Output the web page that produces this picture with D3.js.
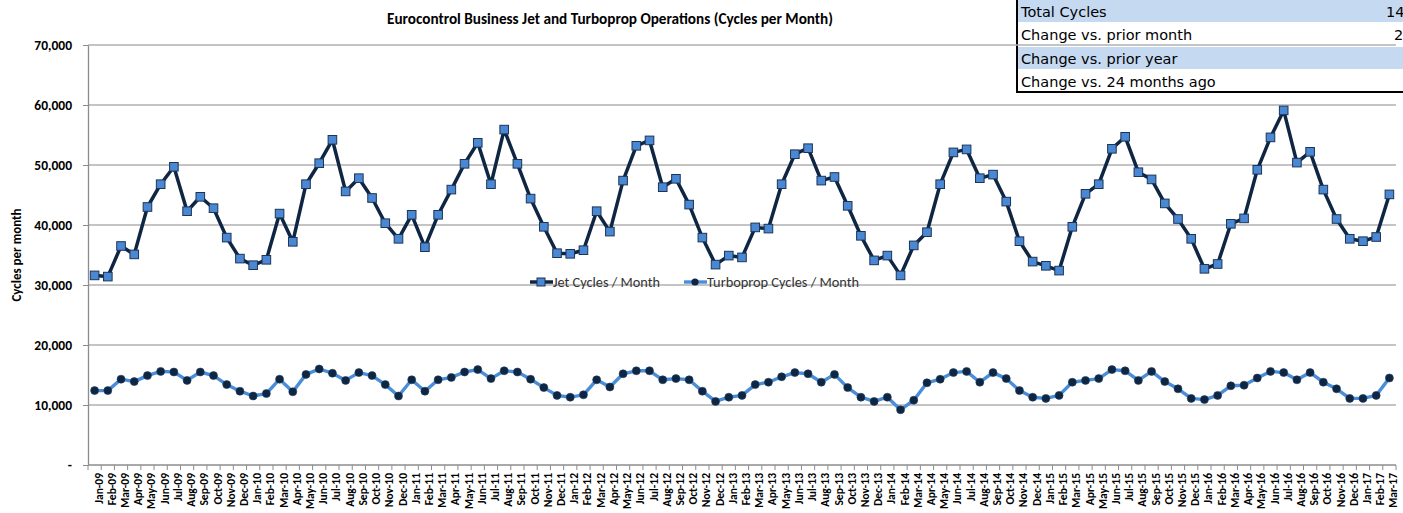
<!DOCTYPE html>
<html>
<head>
<meta charset="utf-8">
<script src="https://cdn.jsdelivr.net/npm/d3@7"></script>
<style>
  body { margin: 0; background: #fff; }
  svg { display: block; }
</style>
</head>
<body>
<svg id="chart" width="1403" height="513"></svg>
<script>
// categories (months)
let months = [
  "Jan-09","Feb-09","Mar-09","Apr-09","May-09","Jun-09","Jul-09","Aug-09","Sep-09","Oct-09","Nov-09","Dec-09",
  "Jan-10","Feb-10","Mar-10","Apr-10","May-10","Jun-10","Jul-10","Aug-10","Sep-10","Oct-10","Nov-10","Dec-10",
  "Jan-11","Feb-11","Mar-11","Apr-11","May-11","Jun-11","Jul-11","Aug-11","Sep-11","Oct-11","Nov-11","Dec-11",
  "Jan-12","Feb-12","Mar-12","Apr-12","May-12","Jun-12","Jul-12","Aug-12","Sep-12","Oct-12","Nov-12","Dec-12",
  "Jan-13","Feb-13","Mar-13","Apr-13","May-13","Jun-13","Jul-13","Aug-13","Sep-13","Oct-13","Nov-13","Dec-13",
  "Jan-14","Feb-14","Mar-14","Apr-14","May-14","Jun-14","Jul-14","Aug-14","Sep-14","Oct-14","Nov-14","Dec-14",
  "Jan-15","Feb-15","Mar-15","Apr-15","May-15","Jun-15","Jul-15","Aug-15","Sep-15","Oct-15","Nov-15","Dec-15",
  "Jan-16","Feb-16","Mar-16","Apr-16","May-16","Jun-16","Jul-16","Aug-16","Sep-16","Oct-16","Nov-16","Dec-16",
  "Jan-17","Feb-17","Mar-17"
];

let jetCycles = [
  31600, 31400, 36500, 35100, 43000, 46800, 49700, 42300, 44700, 42800, 37900, 34400,
  33300, 34200, 41900, 37200, 46800, 50300, 54200, 45600, 47800, 44500, 40300, 37700,
  41700, 36300, 41700, 45900, 50200, 53700, 46800, 55900, 50200, 44400, 39700, 35300,
  35200, 35800, 42300, 38900, 47400, 53200, 54100, 46300, 47700, 43400, 37900, 33400,
  34900, 34600, 39600, 39400, 46800, 51800, 52800, 47400, 48000, 43200, 38200, 34100,
  34900, 31600, 36600, 38800, 46800, 52100, 52600, 47800, 48400, 43900, 37300, 33900,
  33200, 32400, 39700, 45200, 46800, 52700, 54700, 48800, 47600, 43600, 41000, 37700,
  32700, 33500, 40200, 41100, 49200, 54600, 59100, 50400, 52200, 45900, 41000, 37700,
  37300, 38000, 45100
];

let turbopropCycles = [
  12400, 12400, 14300, 13900, 14900, 15600, 15500, 14100, 15500, 14900, 13400, 12300,
  11500, 11900, 14300, 12200, 15100, 16000, 15300, 14100, 15400, 14900, 13400, 11500,
  14200, 12300, 14200, 14600, 15500, 15900, 14400, 15700, 15500, 14300, 12900, 11600,
  11300, 11700, 14200, 13000, 15200, 15700, 15700, 14200, 14400, 14200, 12300, 10600,
  11300, 11600, 13400, 13800, 14700, 15400, 15200, 13800, 15100, 12900, 11300, 10600,
  11300, 9200, 10800, 13700, 14300, 15400, 15600, 13800, 15400, 14400, 12400, 11300,
  11100, 11600, 13800, 14100, 14400, 15900, 15700, 14100, 15600, 13900, 12700, 11100,
  10900, 11600, 13200, 13300, 14500, 15600, 15400, 14200, 15400, 13800, 12700, 11100,
  11100, 11600, 14500
];

let yTicks = [0, 10000, 20000, 30000, 40000, 50000, 60000, 70000];

let tableRows = ["Total Cycles", "Change vs. prior month", "Change vs. prior year", "Change vs. 24 months ago"];
let tableValues = ["14", "2", "", ""];

let svg = d3.select("#chart");

let margin = { left: 88, right: 1396, top: 45, bottom: 465 };

// summary table (top right)
let table = svg.append("g").attr("class", "summary");
let rowTops = [0, 23, 47, 70];
let rowHeights = [22, 23, 22, 21];

table.selectAll("rect.row").
data(tableRows).
enter().
append("rect").
attr("class", "row").
attr("x", 1017).
attr("y", (d, i) => rowTops[i]).
attr("width", 400).
attr("height", (d, i) => rowHeights[i]).
attr("fill", (d, i) => i % 2 === 0 ? "#c5d9f1" : "#ffffff");

table.selectAll("text.label").
data(tableRows).
enter().
append("text").
attr("class", "label").
attr("x", 1021).
attr("y", (d, i) => rowTops[i] + 17).
attr("font-family", "Verdana, 'DejaVu Sans', sans-serif").
attr("font-size", 14.5).
attr("fill", "#000").
text(d => d);

table.selectAll("text.value").
data(tableValues).
enter().
append("text").
attr("class", "value").
attr("x", (d, i) => i === 0 ? 1386 : 1394).
attr("y", (d, i) => rowTops[i] + 17).
attr("font-family", "Verdana, 'DejaVu Sans', sans-serif").
attr("font-size", 14.5).
attr("fill", "#000").
text(d => d);

table.append("line").
attr("x1", 1017).attr("x2", 1017).
attr("y1", 0).attr("y2", 93).
attr("stroke", "#000").attr("stroke-width", 2);
table.append("line").
attr("x1", 1016).attr("x2", 1403).
attr("y1", 92).attr("y2", 92).
attr("stroke", "#000").attr("stroke-width", 2);

// scales
let x = d3.scaleBand().
domain(months).
range([margin.left, margin.right]);

let y = d3.scaleLinear().
domain([0, 70000]).
range([margin.bottom, margin.top]);

// gridlines
svg.append("g").
attr("class", "grid").
selectAll("line").
data(yTicks.filter(d => d > 0)).
enter().
append("line").
attr("x1", margin.left).
attr("x2", margin.right).
attr("y1", d => y(d)).
attr("y2", d => y(d)).
attr("stroke", "#b0b0b0").
attr("stroke-width", 1.4);

// y axis
let yAxis = d3.axisLeft(y).
tickValues(yTicks).
tickSize(5).
tickSizeOuter(0).
tickPadding(11).
tickFormat(d => d === 0 ? "-" : d3.format(",")(d));

let gy = svg.append("g").
attr("transform", `translate(${margin.left},0)`).
call(yAxis);
gy.select(".domain").attr("stroke", "#8c8c8c").attr("stroke-width", 1.3);
gy.selectAll(".tick line").attr("stroke", "#8c8c8c");
gy.selectAll(".tick text").
attr("font-family", "Carlito, Lato, sans-serif").
attr("font-weight", "bold").
attr("font-size", 13.5).
attr("fill", "#000");

// x axis
let boundaries = months.map(m => x(m)).concat([margin.right]);
let gx = svg.append("g").attr("class", "x-axis");
gx.append("line").
attr("x1", margin.left).attr("x2", margin.right).
attr("y1", margin.bottom).attr("y2", margin.bottom).
attr("stroke", "#8c8c8c").attr("stroke-width", 1.3);
gx.selectAll("line.tick").
data(boundaries).
enter().
append("line").
attr("class", "tick").
attr("x1", d => d).attr("x2", d => d).
attr("y1", margin.bottom).attr("y2", margin.bottom + 5).
attr("stroke", "#8c8c8c");
gx.selectAll("text").
data(months).
enter().
append("text").
attr("transform", d => `translate(${x(d) + x.bandwidth() / 2 + 4},${margin.bottom + 8}) rotate(-90)`).
attr("text-anchor", "end").
attr("dy", "0.35em").
attr("font-family", "Carlito, Lato, sans-serif").
attr("font-weight", "bold").
attr("font-size", 11.5).
attr("fill", "#000").
text(d => d);

// y axis title
svg.append("text").
attr("transform", "translate(21,255) rotate(-90)").
attr("text-anchor", "middle").
attr("font-family", "Carlito, Lato, sans-serif").
attr("font-weight", "bold").
attr("font-size", 13).
attr("fill", "#000").
text("Cycles per month");

// chart title
svg.append("text").
attr("x", 387).
attr("y", 24).
attr("font-family", "Carlito, Lato, sans-serif").
attr("font-weight", "bold").
attr("font-size", 16).
attr("textLength", 446).
attr("lengthAdjust", "spacingAndGlyphs").
attr("fill", "#000").
text("Eurocontrol Business Jet and Turboprop Operations (Cycles per Month)");

// lines
let cx = d => x(d) + x.bandwidth() / 2;

let seriesLine = d3.line().
x((d, i) => cx(months[i])).
y(d => y(d));

let jetColor = "#0f2642";
let turboColor = "#4a8ed8";

svg.append("path").
datum(turbopropCycles).
attr("fill", "none").
attr("stroke", turboColor).
attr("stroke-width", 3.4).
attr("stroke-linejoin", "round").
attr("d", seriesLine);

svg.append("g").
selectAll("circle").
data(turbopropCycles).
enter().
append("circle").
attr("cx", (d, i) => cx(months[i])).
attr("cy", d => y(d)).
attr("r", 4).
attr("fill", jetColor).
attr("stroke", "#1d3e66").
attr("stroke-width", 0.6);

svg.append("path").
datum(jetCycles).
attr("fill", "none").
attr("stroke", jetColor).
attr("stroke-width", 3.5).
attr("stroke-linejoin", "round").
attr("d", seriesLine);

svg.append("g").
selectAll("rect").
data(jetCycles).
enter().
append("rect").
attr("x", (d, i) => cx(months[i]) - 4.3).
attr("y", d => y(d) - 4.3).
attr("width", 8.6).
attr("height", 8.6).
attr("fill", "#4b88d3").
attr("stroke", "#1b3557").
attr("stroke-width", 1);

// legend
let legend = svg.append("g").attr("class", "legend");
legend.append("line").
attr("x1", 530).attr("x2", 553).attr("y1", 282).attr("y2", 282).
attr("stroke", jetColor).attr("stroke-width", 3.5);
legend.append("rect").
attr("x", 537).attr("y", 278).attr("width", 8).attr("height", 8).
attr("fill", "#4b88d3").attr("stroke", "#1b3557").attr("stroke-width", 1);
legend.append("text").
attr("x", 553).attr("y", 287).
attr("font-family", "Carlito, Lato, sans-serif").
attr("font-size", 13.5).
attr("textLength", 107).
attr("lengthAdjust", "spacingAndGlyphs").
attr("fill", "#333").
text("Jet Cycles / Month");

legend.append("line").
attr("x1", 684).attr("x2", 707).attr("y1", 282).attr("y2", 282).
attr("stroke", turboColor).attr("stroke-width", 3.4);
legend.append("circle").
attr("cx", 695).attr("cy", 282).attr("r", 3.6).
attr("fill", jetColor);
legend.append("text").
attr("x", 707).attr("y", 287).
attr("font-family", "Carlito, Lato, sans-serif").
attr("font-size", 13.5).
attr("textLength", 152).
attr("lengthAdjust", "spacingAndGlyphs").
attr("fill", "#333").
text("Turboprop Cycles / Month");
</script>
</body>
</html>
